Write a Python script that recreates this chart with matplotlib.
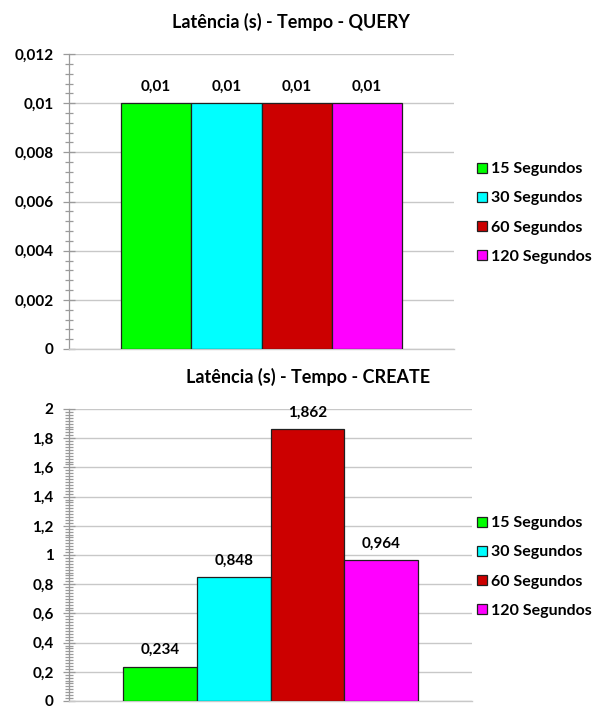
import matplotlib
matplotlib.use("Agg")
import matplotlib.pyplot as plt
from matplotlib.ticker import MultipleLocator

plt.rcParams['font.family'] = ['Lato', 'DejaVu Sans']
plt.rcParams['font.weight'] = 'bold'

# Data
series = ['15 Segundos', '30 Segundos', '60 Segundos', '120 Segundos']
colors = ['#00FF00', '#00FFFF', '#CC0000', '#FF00FF']

query_latency = [0.01, 0.01, 0.01, 0.01]
create_latency = [0.234, 0.848, 1.862, 0.964]

query_ticks = [0, 0.002, 0.004, 0.006, 0.008, 0.01, 0.012]
query_tick_labels = ['0', '0,002', '0,004', '0,006', '0,008', '0,01', '0,012']
create_ticks = [0, 0.2, 0.4, 0.6, 0.8, 1.0, 1.2, 1.4, 1.6, 1.8, 2.0]
create_tick_labels = ['0', '0,2', '0,4', '0,6', '0,8', '1', '1,2', '1,4', '1,6', '1,8', '2']

W, H = 609, 709
GRID = '#c8c8c8'
AXIS = '#9a9a9a'


def px_axes(fig, left, top, right, bottom):
    return fig.add_axes([left / W, 1 - bottom / H, (right - left) / W, (bottom - top) / H])


def fmt(v):
    return f"{v:g}".replace('.', ',')


def draw_panel(fig, box, values, ticks, tick_labels, minor, title, title_xy, legend_y):
    ax = px_axes(fig, *box)
    x = range(len(values))
    bars = ax.bar(x, values, width=1.0, color=colors, edgecolor='#202020',
                  linewidth=0.9, zorder=3, label=series)
    for b, v in zip(bars, values):
        ax.annotate(fmt(v), (b.get_x() + b.get_width() / 2, v), xytext=(0, 7),
                    textcoords='offset points', ha='center', va='bottom',
                    fontsize=11, fontweight='bold')

    ax.set_xlim(-1.24, len(values) - 1 + 1.24)
    ax.set_ylim(ticks[0], ticks[-1])
    ax.set_yticks(ticks)
    ax.set_yticklabels(tick_labels)
    ax.yaxis.set_minor_locator(MultipleLocator(minor))
    ax.set_xticks([])
    ax.tick_params(axis='y', which='major', direction='inout', length=8,
                   width=0.9, color=AXIS, labelsize=11, pad=7)
    ax.tick_params(axis='y', which='minor', direction='inout', length=6,
                   width=0.9, color=AXIS)
    ax.grid(axis='y', color=GRID, linewidth=1.0, zorder=0)
    for s in ('top', 'right'):
        ax.spines[s].set_visible(False)
    ax.spines['left'].set_color(AXIS)
    ax.spines['bottom'].set_color(GRID)
    ax.spines['left'].set_linewidth(0.9)
    ax.spines['bottom'].set_linewidth(1.0)

    fig.text(title_xy[0] / W, 1 - title_xy[1] / H, title, ha='center', va='center',
             fontsize=13, fontweight='bold')

    handles = list(bars)
    fig.legend(handles, series, loc='center left',
               bbox_to_anchor=(477 / W, 1 - legend_y / H),
               frameon=False, handlelength=0.6, handleheight=0.6,
               handletextpad=0.3, labelspacing=0.95, borderpad=0, borderaxespad=0,
               prop={'weight': 'bold', 'size': 11.5})
    return ax


fig = plt.figure(figsize=(W / 100, H / 100), dpi=100)

draw_panel(fig, (69, 54, 454, 349), query_latency, query_ticks, query_tick_labels,
           0.0004, 'Latência (s) - Tempo - QUERY', (291, 22), 213)
draw_panel(fig, (69, 409, 472, 701), create_latency, create_ticks, create_tick_labels,
           0.02, 'Latência (s) - Tempo - CREATE', (308, 377), 567)

fig.savefig('out.png', dpi=100)
